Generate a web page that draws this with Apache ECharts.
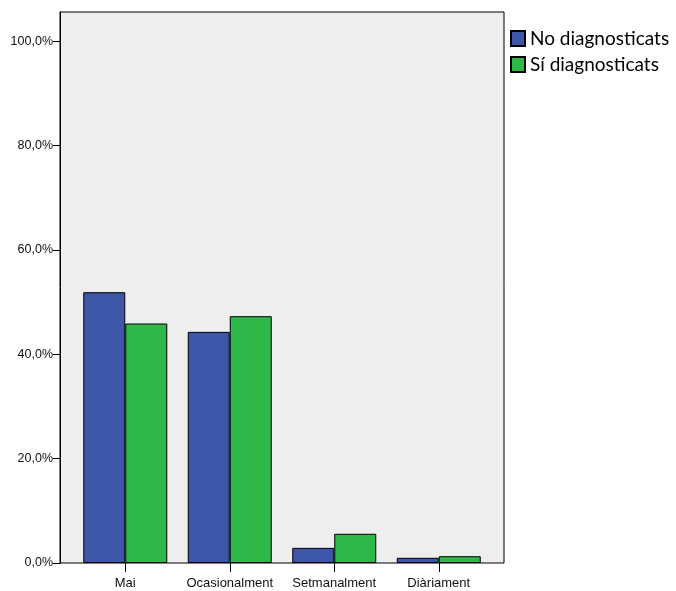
<!DOCTYPE html>
<html>
<head>
<meta charset="utf-8">
<script src="https://cdn.jsdelivr.net/npm/echarts@6/dist/echarts.min.js"></script>
<style>html,body{margin:0;padding:0;background:#fff;}#c{width:676px;height:591px;}</style>
</head>
<body>
<div id="c"></div>
<script>
const categories = ['Mai', 'Ocasionalment', 'Setmanalment', 'Diàriament'];
const seriesNames = ['No diagnosticats', 'Sí diagnosticats'];
const noDiagnosticats = [51.9, 44.3, 2.9, 1.0];
const siDiagnosticats = [45.9, 47.3, 5.6, 1.3];
const yTicks = [0, 20, 40, 60, 80, 100];
const yMax = 105.6;

const chart = echarts.init(document.getElementById('c'));
const fmt = v => v.toFixed(1).replace('.', ',') + '%';
chart.setOption({
  animation: false,
  backgroundColor: '#ffffff',
  textStyle: { fontFamily: 'Liberation Sans, Arial, sans-serif' },
  legend: {
    orient: 'vertical',
    left: 510, top: 29, padding: 0,
    itemWidth: 14, itemHeight: 15, itemGap: 7,
    icon: 'rect',
    data: seriesNames,
    textStyle: { fontFamily: 'Lato, Calibri, sans-serif', fontSize: 19, lineHeight: 19, color: '#000' }
  },
  grid: [
    { left: 60, right: 172, top: 12, bottom: 28, show: true, backgroundColor: '#EEEEEE', borderColor: '#000', borderWidth: 1 },
    { left: 73, right: 185, top: 12, bottom: 28 }
  ],
  xAxis: [
    { type: 'category', gridIndex: 0, data: categories, show: false },
    {
      type: 'category', gridIndex: 1, data: categories,
      axisLine: { show: false },
      axisTick: { show: true, interval: 0, alignWithLabel: true, length: 9, lineStyle: { color: '#000', width: 1 } },
      axisLabel: { interval: 0, hideOverlap: false, margin: 14, fontSize: 13, color: '#111' }
    }
  ],
  yAxis: [
    {
      type: 'value', gridIndex: 0, min: 0, max: yMax,
      splitLine: { show: false },
      axisLine: { show: true, lineStyle: { color: '#000' } },
      axisTick: { show: true, length: 7, customValues: yTicks, lineStyle: { color: '#000' } },
      axisLabel: { margin: 7, fontSize: 12.5, color: '#111', customValues: yTicks, formatter: fmt }
    },
    { type: 'value', gridIndex: 1, min: 0, max: yMax, show: false, splitLine: { show: false } }
  ],
  series: [
    {
      name: seriesNames[0], type: 'bar', xAxisIndex: 1, yAxisIndex: 1,
      data: noDiagnosticats, barWidth: 42, barGap: '0%',
      itemStyle: { color: '#3E56A8', borderColor: '#000', borderWidth: 1 }
    },
    {
      name: seriesNames[1], type: 'bar', xAxisIndex: 1, yAxisIndex: 1,
      data: siDiagnosticats, barWidth: 42, barGap: '0%',
      itemStyle: { color: '#2EB84A', borderColor: '#000', borderWidth: 1 }
    }
  ]
});
</script>
</body>
</html>
